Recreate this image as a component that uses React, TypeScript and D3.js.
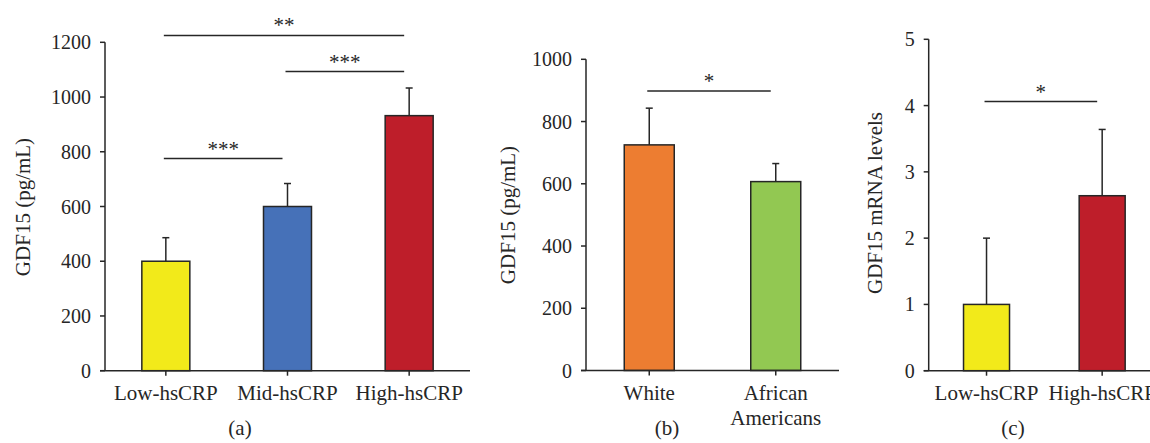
import React from 'react';
import * as d3 from 'd3';

// panel (a): GDF15 by hsCRP group
const groupsA = ['Low-hsCRP', 'Mid-hsCRP', 'High-hsCRP'];
const meansA = [400, 600, 932];
const upperA = [486, 684, 1033];
const colorsA = ['#f2ea1a', '#4671b8', '#be1e2a'];
const ticksA = [0, 200, 400, 600, 800, 1000, 1200];
const sigA = [
  { from: 0, to: 1, y: 775, label: '***' },
  { from: 0, to: 2, y: 1225, label: '**' },
  { from: 1, to: 2, y: 1093, label: '***' },
];

// panel (b): GDF15 by race
const groupsB = ['White', 'African Americans'];
const meansB = [725, 607];
const upperB = [843, 665];
const colorsB = ['#ed7d31', '#92c852'];
const ticksB = [0, 200, 400, 600, 800, 1000];
const sigB = [{ from: 0, to: 1, y: 898, label: '*' }];

// panel (c): GDF15 mRNA
const groupsC = ['Low-hsCRP', 'High-hsCRP'];
const meansC = [1, 2.64];
const upperC = [2, 3.64];
const colorsC = ['#f2ea1a', '#be1e2a'];
const ticksC = [0, 1, 2, 3, 4, 5];
const sigC = [{ from: 0, to: 1, y: 4.06, label: '*' }];

const FONT = '"Liberation Serif", "Times New Roman", serif';
const INK = '#262626';

type Sig = { from: number; to: number; y: number; label: string };

type PanelProps = {
  groups: string[];
  means: number[];
  upper: number[];
  colors: string[];
  ticks: number[];
  sig: Sig[];
  x0: number;
  x1: number;
  yTop: number;
  yBottom: number;
  yLabel: string;
  yLabelPos: [number, number];
  caption: string;
  captionX: number;
  barW: number;
};

const Panel = (p: PanelProps) => {
  const x = d3.scaleBand().domain(p.groups).range([p.x0, p.x1]);
  const y = d3.scaleLinear().domain([0, p.ticks[p.ticks.length - 1]]).range([p.yBottom, p.yTop]);
  const cx = (i: number) => (x(p.groups[i]) as number) + x.bandwidth() / 2;

  return (
    <g>
      {/* bars */}
      {p.groups.map((g, i) => (
        <g key={g}>
          <line x1={cx(i)} x2={cx(i)} y1={y(p.means[i])} y2={y(p.upper[i])} stroke={INK} strokeWidth={1.5} />
          <line x1={cx(i) - 3.5} x2={cx(i) + 3.5} y1={y(p.upper[i])} y2={y(p.upper[i])} stroke={INK} strokeWidth={1.5} />
          <rect
            x={cx(i) - p.barW / 2}
            y={y(p.means[i])}
            width={p.barW}
            height={y(0) - y(p.means[i])}
            fill={p.colors[i]}
            stroke={INK}
            strokeWidth={1.5}
          />
        </g>
      ))}

      {/* y axis */}
      <line x1={p.x0} x2={p.x0} y1={p.yTop} y2={p.yBottom} stroke={INK} strokeWidth={1.5} />
      {p.ticks.map((t) => (
        <g key={t}>
          <line x1={p.x0 - 5} x2={p.x0} y1={y(t)} y2={y(t)} stroke={INK} strokeWidth={1.5} />
          <text x={p.x0 - 14} y={y(t)} dy="0.35em" textAnchor="end" fontSize={20} fill={INK}>
            {t}
          </text>
        </g>
      ))}

      {/* x axis */}
      <line x1={p.x0 - 5} x2={p.x1} y1={p.yBottom} y2={p.yBottom} stroke={INK} strokeWidth={1.5} />
      {p.groups.map((g, i) => {
        const words = g === 'African Americans' ? ['African', 'Americans'] : [g];
        return (
          <g key={g}>
            <line x1={cx(i)} x2={cx(i)} y1={p.yBottom} y2={p.yBottom + 5} stroke={INK} strokeWidth={1.5} />
            {words.map((w, k) => (
              <text key={w} x={cx(i)} y={400 + k * 25} textAnchor="middle" fontSize={21} fill={INK}>
                {w}
              </text>
            ))}
          </g>
        );
      })}

      {/* significance */}
      {p.sig.map((s, k) => {
        const a = cx(s.from) - 2;
        const b = cx(s.to) - 5;
        return (
          <g key={k}>
            <line x1={a} x2={b} y1={y(s.y)} y2={y(s.y)} stroke={INK} strokeWidth={1.5} />
            <text x={(a + b) / 2} y={y(s.y) - 3} textAnchor="middle" fontSize={21} fill={INK}>
              {s.label}
            </text>
          </g>
        );
      })}

      <text
        transform={`translate(${p.yLabelPos[0]},${p.yLabelPos[1]}) rotate(-90)`}
        dy="0.35em"
        textAnchor="middle"
        fontSize={21}
        fill={INK}
      >
        {p.yLabel}
      </text>
      <text x={p.captionX} y={435} textAnchor="middle" fontSize={21} fill={INK}>
        {p.caption}
      </text>
    </g>
  );
};

export default function App() {
  return (
    <div style={{ position: 'absolute', left: 0, top: 0, background: '#fff' }}>
      <svg width={1150} height={443} style={{ display: 'block', fontFamily: FONT }}>
        <rect width={1150} height={443} fill="#fff" />
        <Panel
          groups={groupsA} means={meansA} upper={upperA} colors={colorsA} ticks={ticksA} sig={sigA}
          x0={105} x1={470} yTop={42.3} yBottom={370.7} barW={48}
          yLabel="GDF15 (pg/mL)" yLabelPos={[23, 207]} caption="(a)" captionX={240}
        />
        <Panel
          groups={groupsB} means={meansB} upper={upperB} colors={colorsB} ticks={ticksB} sig={sigB}
          x0={586} x1={839} yTop={59.3} yBottom={370.5} barW={50}
          yLabel="GDF15 (pg/mL)" yLabelPos={[508, 215]} caption="(b)" captionX={667}
        />
        <Panel
          groups={groupsC} means={meansC} upper={upperC} colors={colorsC} ticks={ticksC} sig={sigC}
          x0={928.7} x1={1160} yTop={39.3} yBottom={370.7} barW={46}
          yLabel="GDF15 mRNA levels" yLabelPos={[875, 203]} caption="(c)" captionX={1013}
        />
      </svg>
    </div>
  );
}
